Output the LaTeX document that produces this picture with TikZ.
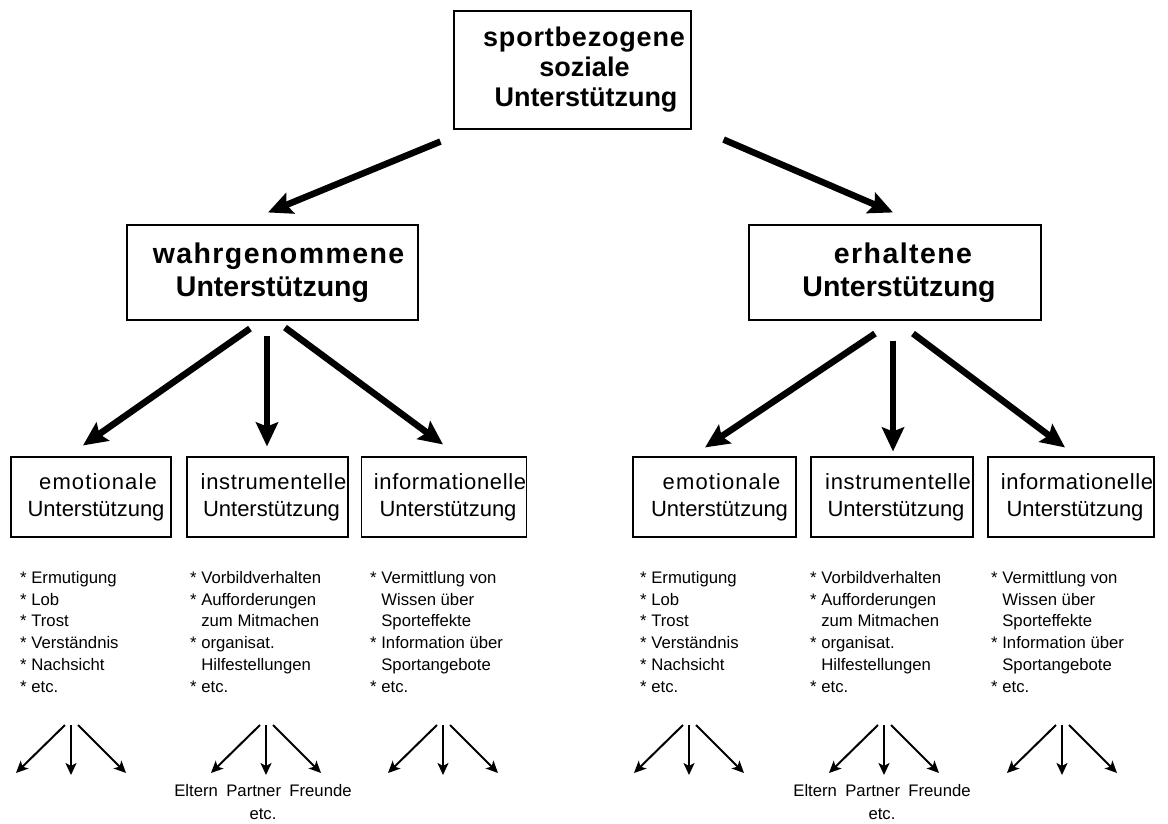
\documentclass[tikz,border=0pt]{standalone}
\usepackage{fontspec}
\setmainfont{Liberation Sans}
\newfontfamily\widefont[LetterSpace=3]{Liberation Sans}
\newfontfamily\widerfont[LetterSpace=5]{Liberation Sans}
\newcommand{\padl}[1]{\hspace*{#1pt}}
\usetikzlibrary{calc, arrows.meta}

\begin{document}
\begin{tikzpicture}[x=1pt, y=-1pt,
            mainbox/.style={draw, line width=1.1pt, inner sep=0pt, align=center, font=\fontsize{28.5}{33}\selectfont\bfseries},
            subbox/.style={draw, line width=1.1pt, inner sep=0pt, align=center, minimum height=80pt, font=\fontsize{22}{27}\selectfont},
            itemlist/.style={anchor=north west, inner sep=0pt, align=left, font=\fontsize{16.7}{21.8}\selectfont},
            bigarrow/.style={line width=6.5pt, -{Stealth[length=24pt, width=22pt, inset=4pt]}},
            smallarrow/.style={line width=2pt, -{Stealth[length=12pt, width=11pt, inset=3pt]}}]
            \useasboundingbox (0,0) rectangle (1168,823);
            \node[mainbox, minimum width=237pt, minimum height=118pt, font=\fontsize{27}{30}\selectfont\bfseries] (top) at (572.5,70) {\padl{23}{\widefont\bfseries sportbezogene}\\\padl{24}soziale\\\padl{27}Unterstützung};
            \node[mainbox, minimum width=291pt, minimum height=95pt] (wahr) at (272.5,272.5) {\padl{12}{\widerfont\bfseries wahrgenommene}\\Unterstützung};
            \node[mainbox, minimum width=292pt, minimum height=95pt] (erh) at (895,272.5) {\padl{16}{\widerfont\bfseries erhaltene}\\\padl{8}Unterstützung};
            \node[subbox, minimum width=160pt] (emoL) at (91,497) {\padl{14}{\widerfont emotionale}\\\padl{10}Unterstützung};
            \node[subbox, minimum width=161pt] (insL) at (267.5,497) {\padl{12}{\widefont instrumentelle}\\\padl{8}Unterstützung};
            \node[subbox, minimum width=162pt] (infL) at (444,497) {\padl{12}{\widefont informationelle}\\\padl{8}Unterstützung};
            \node[subbox, minimum width=163pt] (emoR) at (714.5,497) {\padl{14}{\widerfont emotionale}\\\padl{10}Unterstützung};
            \node[subbox, minimum width=162pt] (insR) at (892,497) {\padl{12}{\widefont instrumentelle}\\\padl{8}Unterstützung};
            \node[subbox, minimum width=166pt] (infR) at (1071,497) {\padl{12}{\widefont informationelle}\\\padl{8}Unterstützung};
            \draw[bigarrow] ($(top.south west)+(-13,12)$) -- ($(wahr.north)+(-4.5,-12)$);
            \draw[bigarrow] ($(top.south east)+(32,10)$) -- ($(erh.north)+(-2,-12)$);
            \draw[bigarrow] ($(wahr.south)+(-22.5,8)$) -- ($(emoL.north)+(-8,-11)$);
            \draw[bigarrow] ($(wahr.south)+(-5.5,15)$) -- ($(insL.north)+(-0.5,-10)$);
            \draw[bigarrow] ($(wahr.south)+(12.5,7)$) -- ($(infL.north)+(-1,-12)$);
            \draw[bigarrow] ($(erh.south)+(-20,13)$) -- ($(emoR.north)+(-9.5,-9)$);
            \draw[bigarrow] ($(erh.south)+(-2,20)$) -- ($(insR.north)+(1,-5)$);
            \draw[bigarrow] ($(erh.south)+(18,13)$) -- ($(infR.north)+(-6,-9)$);
            \node[itemlist] (lstA) at (20,571) {* Ermutigung\\* Lob\\* Trost\\* Verständnis\\* Nachsicht\\* etc.};
            \node[itemlist] (lstB) at (190,571) {* Vorbildverhalten\\* Aufforderungen\\\phantom{* }zum Mitmachen\\* organisat.\\\phantom{* }Hilfestellungen\\* etc.};
            \node[itemlist] (lstC) at (370,571) {* Vermittlung von\\\phantom{* }Wissen über\\\phantom{* }Sporteffekte\\* Information über\\\phantom{* }Sportangebote\\* etc.};
            \node[itemlist] (lstD) at (640,571) {* Ermutigung\\* Lob\\* Trost\\* Verständnis\\* Nachsicht\\* etc.};
            \node[itemlist] (lstE) at (810,571) {* Vorbildverhalten\\* Aufforderungen\\\phantom{* }zum Mitmachen\\* organisat.\\\phantom{* }Hilfestellungen\\* etc.};
            \node[itemlist] (lstF) at (991,571) {* Vermittlung von\\\phantom{* }Wissen über\\\phantom{* }Sporteffekte\\* Information über\\\phantom{* }Sportangebote\\* etc.};
            \coordinate (fanA) at (71,725);
            \coordinate (fanB) at (266,725);
            \coordinate (fanC) at (443,725);
            \coordinate (fanD) at (689,725);
            \coordinate (fanE) at (884,725);
            \coordinate (fanF) at (1062,725);
            \foreach \fan in {fanA, fanB, fanC, fanD, fanE, fanF} {
                \draw[smallarrow] ($(\fan)+(-6,0)$) -- ($(\fan)+(-55,48)$);
                \draw[smallarrow] (\fan) -- ($(\fan)+(0,50)$);
                \draw[smallarrow] ($(\fan)+(7,0)$) -- ($(\fan)+(55,48)$);
            }
            \node[inner sep=0pt, align=center, font=\fontsize{16.7}{23}\selectfont] (persL) at (263,802) {Eltern\enspace Partner\enspace Freunde\\etc.};
            \node[inner sep=0pt, align=center, font=\fontsize{16.7}{23}\selectfont] (persR) at (882,802) {Eltern\enspace Partner\enspace Freunde\\etc.};
        \end{tikzpicture}
\end{document}
